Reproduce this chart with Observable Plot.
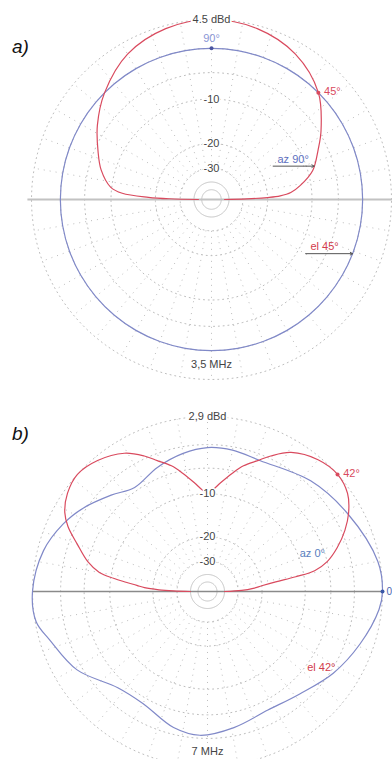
<!DOCTYPE html>
<html><head><meta charset="utf-8">
<script src="https://cdn.jsdelivr.net/npm/d3@7"></script>
<script src="https://cdn.jsdelivr.net/npm/@observablehq/plot@0.6"></script>
<style>
body{margin:0;background:#fff;font-family:"Liberation Sans",Arial,sans-serif;}
#wrap{position:relative;width:392px;height:759px;overflow:hidden;background:#fff;}
.panel{position:absolute;left:0;width:392px;overflow:hidden;}
.tag{position:absolute;left:12px;font-style:italic;font-size:19px;color:#111;line-height:1;}
</style></head><body>
<div id="wrap">
  <div class="panel" id="pa" style="top:0;height:385px"></div>
  <div class="panel" id="pb" style="top:385px;height:374px"></div>
  <div class="tag" style="top:37px">a)</div>
  <div class="tag" style="top:424px">b)</div>
</div>
<script>
// ---------- data ----------
const ringLevels = [0, -3, -6, -10, -20, -30, -40, -50];
const ringLabelLevels = [-10, -20, -30];
const spokeAngles = d3.range(0, 360, 10);

// a) 3.5 MHz – elevation pattern (red), azimuth pattern (blue)
const redA_angle = [0, 1, 2, 3, 5, 9, 16, 25, 32, 45, 60, 75, 90, 105, 120, 135, 147, 157, 165, 173, 176, 178, 179, 180];
const redA_db    = [-45, -28, -20, -16.5, -14, -11.9, -9.2, -7.3, -5.7, -3, -1.2, -0.3, 0, -0.3, -1.2, -3, -4.8, -6.5, -7.8, -9.8, -12, -18, -25, -45];
const blueA_angle = d3.range(0, 360, 10);
const blueA_db    = [-3,-3,-3,-3,-3,-3,-3,-3,-3,-3,-3,-3,-3,-3,-3,-3,-3,-3,-3,-3,-3,-3,-3,-3,-3,-3,-3,-3,-3,-3,-3,-3,-3,-3,-3,-3];

// b) 7 MHz
const redB_angle = [0, 2, 4, 6, 8, 9.5, 11, 14, 18.7, 24, 29, 35, 42, 50, 59, 65, 69, 74, 78, 83, 87, 90, 93, 97, 102, 106, 111, 115, 121, 130, 138, 145, 151, 155, 160, 166, 170, 172, 173.5, 175, 176.5, 178, 179, 180];
const redB_db    = [-40, -28, -23, -20, -16, -11.5, -8.1, -6, -4.2, -2.6, -1.4, -0.4, 0, -0.3, -1.3, -2.7, -3.8, -5, -6.3, -8, -9.3, -10, -9.3, -8, -6.3, -5, -3.8, -2.7, -1.4, -0.4, 0, -0.4, -1.2, -2.2, -4, -6, -8, -10.5, -13, -15.5, -17.5, -22, -28, -40];
const blueB_angle = [0, 10, 29, 47, 68, 80, 90, 100, 112, 125, 135, 146, 155, 166, 180, 190, 197, 211, 227, 240, 256, 267, 281, 297, 312, 327, 341, 354];
const blueB_db    = [0, -0.2, -1.5, -2.5, -3.7, -3.4, -3.35, -3.8, -4.6, -5.5, -4.3, -2.7, -1.6, -0.6, 0, -0.1, -1.0, -2.4, -4.9, -5.2, -3.8, -3.35, -4.0, -4.7, -4.1, -2.65, -1.4, -0.25];

const topLabels = ["4.5 dBd", "2,9 dBd"];
const freqLabels = ["3,5 MHz", "7 MHz"];
const markerA = {red: 45, blue: 90, redText: "45°", blueText: "90°"};
const markerB = {red: 42, blue: 0, redText: "42°", blueText: "0"};

// ---------- helpers ----------
const toR = db => Math.pow(0.89, -db / 2);            // ARRL log scale
const pt = (deg, db) => { const r = toR(db), t = deg * Math.PI / 180; return {x: r * Math.cos(t), y: r * Math.sin(t)}; };
const interp = (angles, dbs, a) => {
  for (let i = 0; i < angles.length - 1; i++) {
    if (a >= angles[i] && a <= angles[i + 1]) {
      const f = (a - angles[i]) / (angles[i + 1] - angles[i]);
      return dbs[i] + f * (dbs[i + 1] - dbs[i]);
    }
  }
  return dbs[dbs.length - 1];
};
const RED = "#d94a5e", BLUE = "#8089c8", GRID = "#bdbdbd", TXT = "#444";
const font = "Liberation Sans, Arial, sans-serif";

function panel(o) {
  const {W, H, cx, cy, R} = o;
  const px = p => p / R;
  const rings = ringLevels.flatMap(l => d3.range(0, 361, 2).map(a => ({level: l, ...pt(a, l)})));
  const spokes = spokeAngles.map(a => { const p0 = pt(a, -30), p1 = pt(a, 0); return {x1: p0.x, y1: p0.y, x2: p1.x, y2: p1.y}; });
  const red = o.redAngle.map((a, i) => pt(a, o.redDb[i]));
  const blue = o.blueAngle.map((a, i) => pt(a, o.blueDb[i]));
  const mRed = pt(o.marker.red, interp(o.redAngle, o.redDb, o.marker.red));
  const mBlue = pt(o.marker.blue, interp(o.blueAngle, o.blueDb, o.marker.blue));
  const marks = [
    Plot.line(rings.filter(d => d.level >= -30), {x: "x", y: "y", z: "level", stroke: GRID, strokeWidth: 1, strokeDasharray: "1 3.8"}),
    Plot.line(rings.filter(d => d.level < -30), {x: "x", y: "y", z: "level", stroke: "#c4c4c4", strokeWidth: 1}),
    Plot.link(spokes, {x1: "x1", y1: "y1", x2: "x2", y2: "y2", stroke: GRID, strokeWidth: 1, strokeDasharray: "1 5"}),
    Plot.ruleY([0], {x1: -o.hx1, x2: o.hx2, stroke: o.hColor, strokeWidth: o.hWidth}),
    Plot.line(blue, {x: "x", y: "y", stroke: BLUE, strokeWidth: 1.2, curve: "catmull-rom-closed"}),
    Plot.line(red, {x: "x", y: "y", stroke: RED, strokeWidth: 1.2, curve: "catmull-rom"}),
    Plot.text(ringLabelLevels, {x: 0, y: d => toR(d), text: d => String(d), fill: TXT, stroke: "white", strokeWidth: 3, fontSize: 11, fontFamily: font}),
    Plot.text([o.top], {x: 0, y: 1, text: d => d, fill: TXT, stroke: "white", strokeWidth: 4, fontSize: 11, fontFamily: font}),
    Plot.text([o.freq], {x: 0, y: -0.915, text: d => d, fill: TXT, stroke: "white", strokeWidth: 3, fontSize: 11, fontFamily: font}),
    Plot.dot([mRed], {x: "x", y: "y", r: 2, fill: RED}),
    Plot.text([mRed], {x: "x", y: "y", text: () => o.marker.redText, dx: 14, dy: -1, fill: RED, fontSize: 11, fontFamily: font}),
    Plot.dot([mBlue], {x: "x", y: "y", r: 2, fill: o.blueDotColor}),
    Plot.text([mBlue], {x: "x", y: "y", text: () => o.marker.blueText, dx: o.blueLabelDx, dy: o.blueLabelDy, fill: o.blueTextColor, fontSize: o.blueLabelSize, fontFamily: font, textAnchor: o.blueLabelDx ? "start" : "middle"}),
  ];
  for (const an of o.annotations) {
    const db = an.curve === "red" ? interp(o.redAngle, o.redDb, an.angle) : interp(o.blueAngle, o.blueDb, an.angle);
    const tip = pt(an.angle, db);
    if (an.line) {
      marks.push(Plot.arrow([tip], {x1: d => d.x - px(an.line), y1: "y", x2: "x", y2: "y", stroke: "#555", strokeWidth: 1, headLength: 4}));
    }
    marks.push(Plot.text([tip], {x: d => d.x - px(an.tx), y: d => d.y + px(an.ty), text: () => an.text, fill: an.color, fontSize: 11, fontFamily: font}));
  }
  return Plot.plot({
    width: W, height: H, margin: 0,
    x: {domain: [-cx / R, (W - cx) / R], axis: null},
    y: {domain: [-(H - cy) / R, cy / R], axis: null},
    style: {fontFamily: font, background: "white", overflow: "hidden"},
    marks
  });
}

document.getElementById("pa").append(panel({
  W: 392, H: 385, cx: 211, cy: 199, R: 180,
  redAngle: redA_angle, redDb: redA_db, blueAngle: blueA_angle, blueDb: blueA_db,
  top: topLabels[0], freq: freqLabels[0], marker: markerA,
  hx1: 1.02, hx2: 1.02, hColor: "#c2c2c2", hWidth: 2,
  blueDotColor: "#4a55a0", blueTextColor: "#8a96d6", blueLabelDx: 0, blueLabelDy: -10, blueLabelSize: 11,
  annotations: [
    {curve: "red", angle: 18, text: "az 90°", color: "#5d6fc0", line: 41, tx: 21, ty: 7},
    {curve: "blue", angle: 339, text: "el 45°", color: "#d23c4c", line: 47, tx: 28, ty: 7}
  ]
}));
document.getElementById("pb").append(panel({
  W: 392, H: 374, cx: 207, cy: 206, R: 175,
  redAngle: redB_angle, redDb: redB_db, blueAngle: blueB_angle, blueDb: blueB_db,
  top: topLabels[1], freq: freqLabels[1], marker: markerB,
  hx1: 1.0, hx2: 1.0, hColor: "#8a8a8a", hWidth: 1.5,
  blueDotColor: "#3b58a8", blueTextColor: "#4a66b0", blueLabelDx: 4, blueLabelDy: 0, blueLabelSize: 10,
  annotations: [
    {curve: "blue", angle: 12, text: "az 0°", color: "#5a7fc0", line: 0, tx: 63, ty: 2},
    {curve: "blue", angle: 333, text: "el 42°", color: "#d23c4c", line: 0, tx: 24, ty: -6}
  ]
}));
</script>
</body></html>
